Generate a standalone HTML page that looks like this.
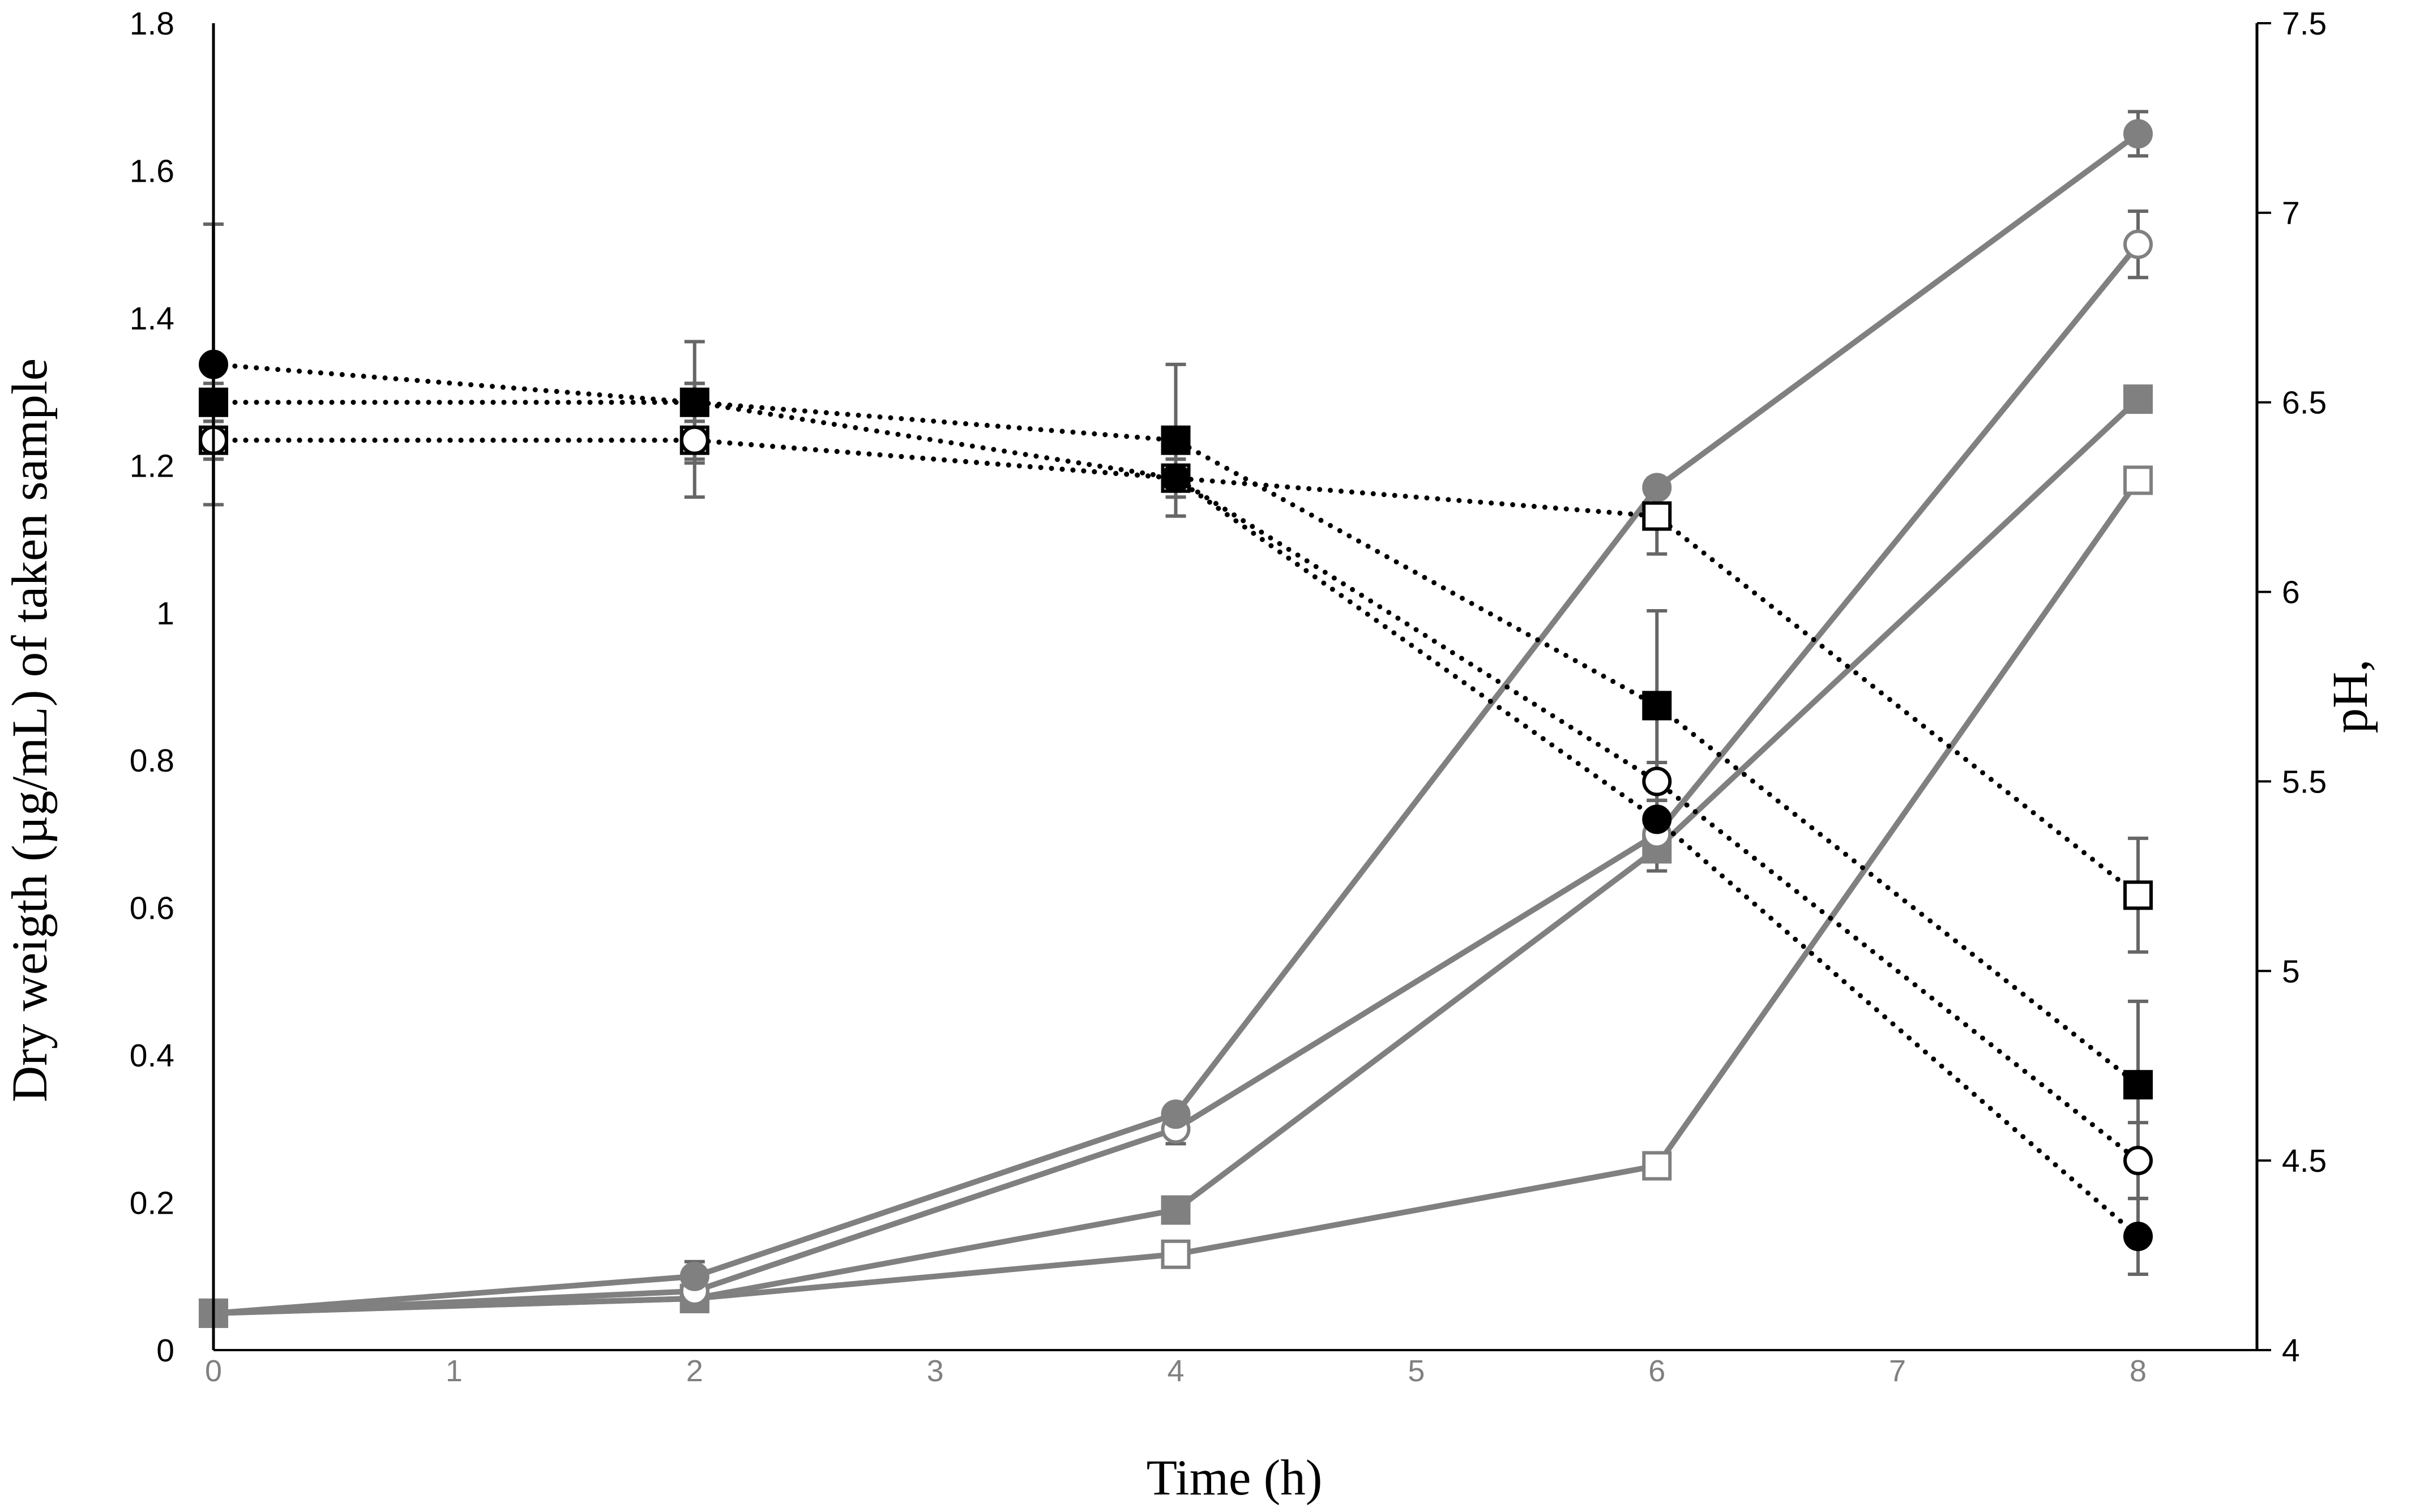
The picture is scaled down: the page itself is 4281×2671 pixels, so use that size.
<!DOCTYPE html>
<html><head><meta charset="utf-8"><style>
html,body{margin:0;padding:0;background:#fff}
svg{display:block}
</style></head><body>
<svg id="chart" width="4281" height="2671" viewBox="0 0 4281 2671" xmlns="http://www.w3.org/2000/svg">
<rect width="4281" height="2671" fill="#fff"/>
<g id="grid"></g>
<g id="series"></g>
<g id="axes"></g>
</svg>
<script>
const times=[0,2,4,6,8];
const xTicks=[0,1,2,3,4,5,6,7,8];
const leftTicks=[0,0.2,0.4,0.6,0.8,1,1.2,1.4,1.6,1.8];
const leftLabels=["0","0.2","0.4","0.6","0.8","1","1.2","1.4","1.6","1.8"];
const rightTicks=[4,4.5,5,5.5,6,6.5,7,7.5];
const rightLabels=["4","4.5","5","5.5","6","6.5","7","7.5"];
// dry weight series (left axis)
const dwFilledCircle=[0.05,0.10,0.32,1.17,1.65];
const dwOpenCircle=[0.05,0.08,0.30,0.70,1.50];
const dwFilledSquare=[0.05,0.07,0.19,0.68,1.29];
const dwOpenSquare=[0.05,0.07,0.13,0.25,1.18];
const dwErrFilledCircle=[0,0.02,0.01,0,0.03];
const dwErrOpenCircle=[0,0.01,0.02,0.01,0.045];
const dwErrFilledSquare=[0,0.01,0.01,0.03,0.01];
const dwErrOpenSquare=[0,0.005,0.01,0.01,0.015];
// pH series (right axis)
const phFilledCircle=[6.6,6.5,6.3,5.4,4.3];
const phFilledSquare=[6.5,6.5,6.4,5.7,4.7];
const phOpenCircle=[6.4,6.4,6.3,5.5,4.5];
const phOpenSquare=[6.4,6.4,6.3,6.2,5.2];
const phErrFilledCircle=[0.37,0.05,0.05,0.05,0.1];
const phErrFilledSquare=[0.05,0.16,0.2,0.25,0.22];
const phErrOpenCircle=[0.05,0.05,0.05,0.05,0.1];
const phErrOpenSquare=[0.05,0.15,0.1,0.1,0.15];

const X0=377,X8=3776,XR=3986,YT=41,YB=2385;
const xs=t=>X0+(X8-X0)*t/8;
const yL=v=>YB-(YB-YT)*v/1.8;
const yR=v=>YB-(YB-YT)*(v-4)/3.5;
const NS="http://www.w3.org/2000/svg";
function mk(tag,attrs,parent){const e=document.createElementNS(NS,tag);for(const k in attrs)e.setAttribute(k,attrs[k]);parent.appendChild(e);return e;}
const S=document.getElementById('series'),A=document.getElementById('axes');

function errbars(vals,errs,yf,name){
  vals.forEach((v,i)=>{if(!errs[i])return;const x=xs(times[i]);
    const g=mk('g',{stroke:'#666','stroke-width':6},S);
    
    
    mk('line',{x1:x,x2:x,y1:yf(v-errs[i]),y2:yf(v+errs[i])},g);
    mk('line',{x1:x-18,x2:x+18,y1:yf(v-errs[i]),y2:yf(v-errs[i])},g);
    mk('line',{x1:x-18,x2:x+18,y1:yf(v+errs[i]),y2:yf(v+errs[i])},g);});
}
function series(vals,yf,name,color,dotted,marker){
  const pts=vals.map((v,i)=>xs(times[i])+','+yf(v)).join(' ');
  const l=mk('polyline',{points:pts,fill:'none',stroke:color,'stroke-width':dotted?9:10,'stroke-linecap':'round','stroke-dasharray':dotted?'0 19':'none'},S);
  
  
  vals.forEach((v,i)=>{const x=xs(times[i]),y=yf(v);let m;
    const fill=marker.endsWith('f')?color:'#fff';
    if(marker[0]=='c')m=mk('circle',{cx:x,cy:y,r:23,fill:fill,stroke:color,'stroke-width':6},S);
    else m=mk('rect',{x:x-23,y:y-23,width:46,height:46,fill:fill,stroke:color,'stroke-width':6},S);
    
    });
}
errbars(dwFilledCircle,dwErrFilledCircle,yL,'dw-filled-circle');
errbars(dwOpenCircle,dwErrOpenCircle,yL,'dw-open-circle');
errbars(dwFilledSquare,dwErrFilledSquare,yL,'dw-filled-square');
errbars(dwOpenSquare,dwErrOpenSquare,yL,'dw-open-square');
errbars(phFilledCircle,phErrFilledCircle,yR,'ph-filled-circle');
errbars(phFilledSquare,phErrFilledSquare,yR,'ph-filled-square');
errbars(phOpenCircle,phErrOpenCircle,yR,'ph-open-circle');
errbars(phOpenSquare,phErrOpenSquare,yR,'ph-open-square');
series(dwOpenSquare,yL,'dw-open-square','#808080',false,'so');
series(dwFilledSquare,yL,'dw-filled-square','#808080',false,'sf');
series(dwOpenCircle,yL,'dw-open-circle','#808080',false,'co');
series(dwFilledCircle,yL,'dw-filled-circle','#808080',false,'cf');
series(phOpenSquare,yR,'ph-open-square','#000',true,'so');
series(phOpenCircle,yR,'ph-open-circle','#000',true,'co');
series(phFilledSquare,yR,'ph-filled-square','#000',true,'sf');
series(phFilledCircle,yR,'ph-filled-circle','#000',true,'cf');

// axes
let e=mk('line',{x1:X0,x2:X0,y1:YT,y2:YB,stroke:'#000','stroke-width':5},A);

e=mk('line',{x1:XR,x2:XR,y1:YT,y2:YB,stroke:'#000','stroke-width':5},A);

e=mk('line',{x1:X0,x2:XR+25,y1:YB,y2:YB,stroke:'#000','stroke-width':4},A);

const font='"Liberation Sans",sans-serif';
leftTicks.forEach((v,i)=>{const t=mk('text',{x:308,y:yL(v)+20,'text-anchor':'end','font-family':font,'font-size':57,fill:'#000'},A);t.textContent=leftLabels[i];
  });
rightTicks.forEach((v,i)=>{const tk=mk('line',{x1:XR,x2:XR+25,y1:yR(v),y2:yR(v),stroke:'#000','stroke-width':4},A);
  
  const t=mk('text',{x:4030,y:yR(v)+20,'font-family':font,'font-size':57,fill:'#000'},A);t.textContent=rightLabels[i];
  });
xTicks.forEach(v=>{const t=mk('text',{x:xs(v),y:2440,'text-anchor':'middle','font-family':font,'font-size':54,fill:'#808080'},A);t.textContent=String(v);
  });
const serif='"Liberation Serif",serif';
e=mk('text',{x:2180,y:2640,'text-anchor':'middle','font-family':serif,'font-size':89,fill:'#000'},A);e.textContent='Time (h)';

e=mk('text',{x:0,y:0,transform:'translate(82,1290) rotate(-90)','text-anchor':'middle','font-family':serif,'font-size':89,fill:'#000'},A);e.textContent='Dry weigth (µg/mL) of taken sample';

e=mk('text',{x:0,y:0,transform:'translate(4180,1230) rotate(-90)','text-anchor':'middle','font-family':serif,'font-size':89,fill:'#000'},A);e.textContent='pH,';

</script>
</body></html>
